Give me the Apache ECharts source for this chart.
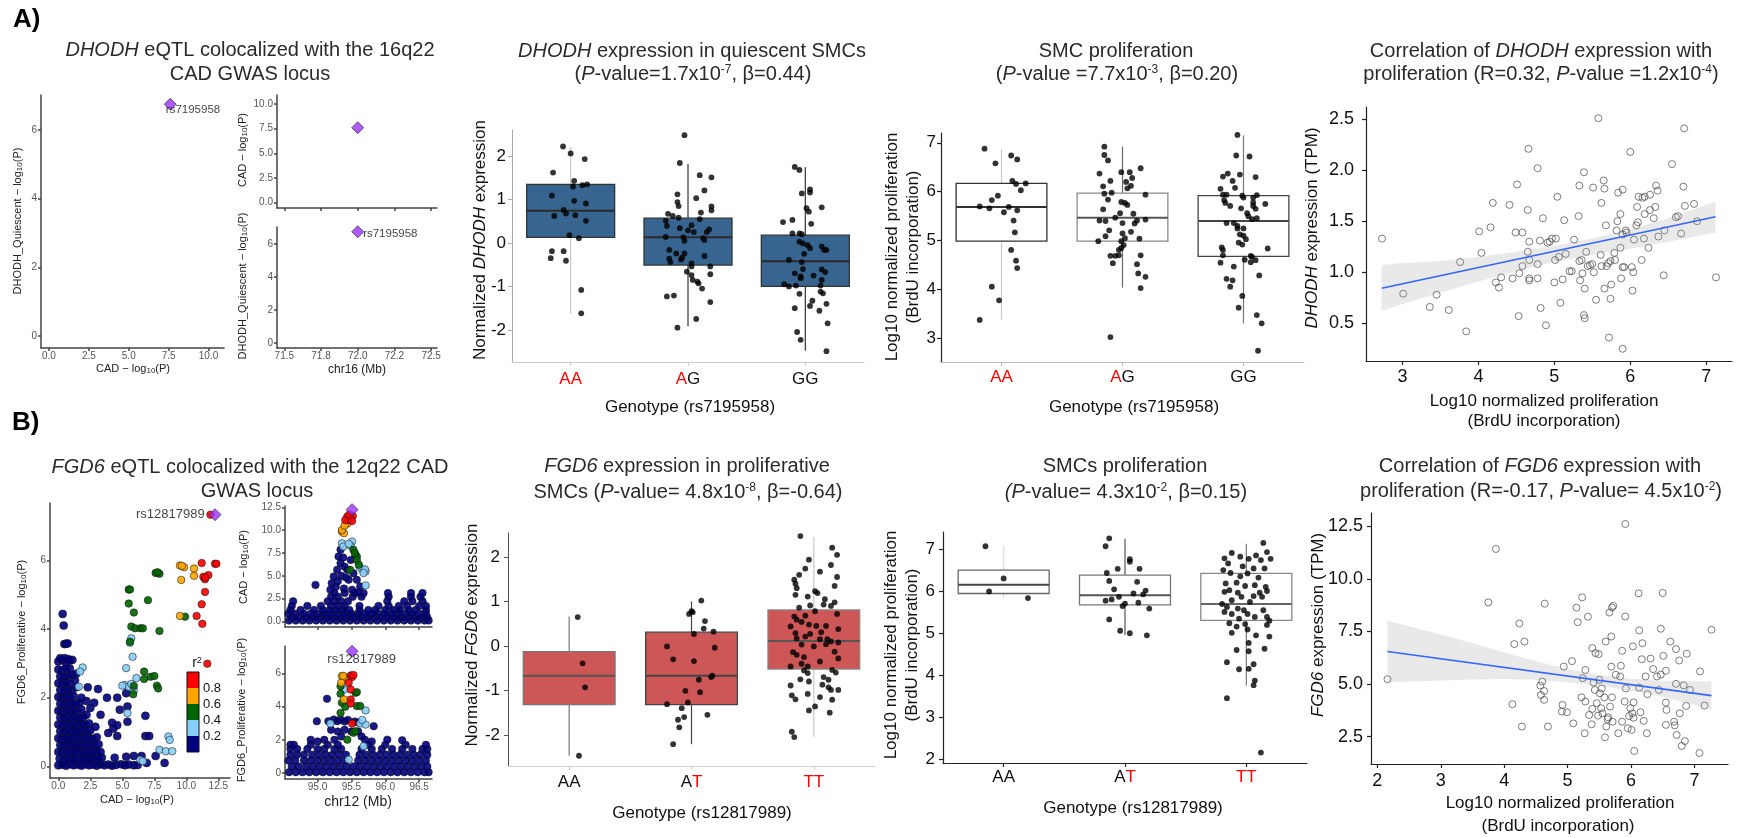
<!DOCTYPE html>
<html><head><meta charset="utf-8">
<script src="https://cdn.jsdelivr.net/npm/echarts@6/dist/echarts.min.js"></script>
<style>html,body{margin:0;padding:0;background:#fff}#c{width:1741px;height:838px}</style>
</head><body><div id="c"></div><script>
// ---------------- DATA ----------------
// Panel A - LocusZoom (DHODH, 16q22)
const A_leadSNP = 'rs7195958';
const A_leadCAD = 7.6;      // CAD -log10(P)
const A_leadEQTL = 6.75;    // DHODH_Quiescent -log10(P)
const A_leadPos = 72.0;     // chr16 (Mb)
const A_lzXTicks = [0, 2.5, 5, 7.5, 10];
const A_lzYTicks = [0, 2, 4, 6];
const A_cadTicks = [0, 2.5, 5, 7.5, 10];
const A_chrTicks = [71.5, 71.75, 72, 72.25, 72.5];
const A_chrTickLabels = ['71.5', '71.8', '72.0', '72.2', '72.5'];

// Panel B - LocusZoom (FGD6, 12q22)
const B_leadSNP = 'rs12817989';
const B_leadCAD = 12.24;
const B_leadEQTL = 7.33;
const B_leadPos = 95.51;
const B_lzXTicks = [0, 2.5, 5, 7.5, 10, 12.5];
const B_lzYTicks = [0, 2, 4, 6];
const B_cadTicks = [0, 2.5, 5, 7.5, 10, 12.5];
const B_chrTicks = [95, 95.5, 96, 96.5];
const R2_COLORS = ['#000080', '#87CEFA', '#006400', '#FFA500', '#FF0000'];
const R2_BREAK_LABELS = ['0.8', '0.6', '0.4', '0.2'];

// B main: CAD -log10P (x) vs FGD6 -log10P (y), by r2 bin
const B_main_navy = [[0.0,0.03],[0.3,0.05],[0.6,0.02],[0.9,0.06],[1.2,0.03],[1.5,0.05],[1.8,0.02],[2.1,0.06],[2.4,0.03],[2.7,0.05],[3.0,0.02],[3.3,0.06],[3.6,0.03],[3.9,0.05],[4.2,0.02],[4.5,0.04],[4.9,0.06],[5.2,0.03],[5.5,0.05],[5.9,0.03],[6.2,0.04],[6.9,0.1],[8.3,0.1],
[0.1,0.22],[0.45,0.2],[0.75,0.24],[1.05,0.21],[1.35,0.23],[1.65,0.2],[1.95,0.24],[2.25,0.21],[2.55,0.23],[2.85,0.2],[3.15,0.22],[3.4,0.25],[4.4,0.25],[5.3,0.28],[5.9,0.3],[6.5,0.3],[7.6,0.3],
[0.0,0.42],[0.3,0.4],[0.6,0.44],[0.9,0.41],[1.2,0.43],[1.5,0.4],[1.8,0.44],[2.1,0.41],[2.4,0.43],[2.7,0.4],[3.0,0.44],[3.3,0.42],
[0.15,0.62],[0.45,0.6],[0.75,0.64],[1.05,0.61],[1.35,0.63],[1.65,0.6],[1.95,0.64],[2.25,0.61],[2.55,0.63],[2.85,0.6],[3.15,0.64],
[0.0,0.82],[0.3,0.8],[0.6,0.84],[0.9,0.81],[1.2,0.83],[1.5,0.8],[1.8,0.84],[2.1,0.81],[2.4,0.83],[2.7,0.8],[3.0,0.85],[4.6,0.88],[6.8,0.88],[7.1,0.88],
[0.15,1.02],[0.45,1.0],[0.75,1.04],[1.05,1.01],[1.35,1.03],[1.65,1.0],[1.95,1.04],[2.25,1.01],[2.5,1.05],[3.9,0.97],[4.3,1.1],
[0.0,1.22],[0.3,1.2],[0.6,1.24],[0.9,1.21],[1.2,1.23],[1.5,1.2],[1.8,1.24],[2.1,1.21],[2.4,1.25],[2.9,1.15],[4.2,1.27],[4.6,1.2],[5.4,1.3],
[0.15,1.42],[0.45,1.4],[0.75,1.44],[1.05,1.41],[1.35,1.43],[1.65,1.4],[1.95,1.44],[2.2,1.5],[3.3,1.5],[4.8,1.65],[6.8,1.47],
[0.0,1.62],[0.3,1.6],[0.6,1.64],[0.9,1.61],[1.2,1.63],[1.5,1.6],[1.8,1.66],[2.5,1.7],[5.4,1.74],
[0.15,1.82],[0.45,1.8],[0.75,1.84],[1.05,1.81],[1.35,1.83],[1.65,1.85],[2.2,1.9],[2.8,1.85],
[0.0,2.02],[0.3,2.0],[0.6,2.04],[0.9,2.01],[1.2,2.05],[1.8,2.0],[3.8,2.0],[4.6,2.0],[5.3,2.13],
[0.15,2.22],[0.45,2.2],[0.75,2.24],[1.05,2.21],[1.4,2.3],[2.3,2.3],[3.1,2.25],
[0.0,2.42],[0.3,2.4],[0.6,2.44],[0.9,2.41],[1.3,2.5],
[0.15,2.62],[0.45,2.6],[0.75,2.64],[1.05,2.65],[1.4,2.7],
[0.0,2.82],[0.3,2.8],[0.6,2.84],[0.9,2.85],
[0.0,3.05],[0.3,3.1],[0.6,3.0],[0.9,3.08],[1.1,3.1],[0.15,3.15],[0.5,3.15],[0.8,3.12],
[0.34,4.44],[0.42,4.1],[0.47,3.56],[0.6,3.57],[0.73,3.58]];
const B_main_lightblue = [[5.7,3.73],[5.8,3.19],[5.3,2.86],[6.1,2.57],[5.2,2.37],[5.5,2.32],[5.9,2.21],[5.4,1.55],[1.9,2.88],[1.7,2.76],[1.6,2.32],[8.6,0.87],[8.7,0.77],[7.9,0.48],[8.4,0.44],[8.9,0.44],[6.4,0.19],[6.6,0.15],[5.6,3.6],[5.0,2.35],[5.7,2.4]];
const B_main_green = [[7.6,5.63],[7.9,5.61],[7.75,5.65],[5.5,5.15],[5.6,5.15],[7.0,4.84],[5.5,4.74],[5.9,4.48],[9.9,4.36],[5.7,4.07],[6.0,4.02],[6.4,4.02],[6.6,4.02],[7.9,3.94],[5.6,3.63],[6.7,2.76],[7.2,2.61],[7.5,2.63],[6.7,2.54],[7.7,2.35],[7.8,2.27],[5.9,2.34],[5.85,2.1]];
const B_main_orange = [[9.5,5.85],[9.82,5.8],[9.65,5.84],[10.6,5.76],[10.6,5.55],[9.6,5.43],[9.5,4.38]];
const B_main_red = [[11.2,5.92],[12.24,5.9],[12.35,5.9],[11.33,5.52],[11.72,5.57],[11.45,5.45],[11.5,5.5],[11.46,5.08],[11.2,4.72],[10.8,4.38],[11.25,4.15],[11.64,2.99],[11.88,7.33]];

// B CAD track: position (Mb) vs CAD -log10P
const B_cadTrack_navyRows = [
 [0.1,[94.58,94.68,94.78,94.88,94.98,95.08,95.18,95.28,95.38,95.48,95.58,95.68,95.78,95.88,95.98,96.08,96.18,96.28,96.38,96.48,96.58,96.64]],
 [0.45,[94.62,94.72,94.83,94.93,95.03,95.13,95.23,95.33,95.43,95.53,95.63,95.73,95.83,95.93,96.03,96.13,96.23,96.33,96.43,96.53,96.62]],
 [0.85,[94.57,94.67,94.8,94.9,95.0,95.1,95.2,95.3,95.4,95.5,95.6,95.7,95.8,95.9,96.0,96.1,96.2,96.3,96.4,96.5,96.6]],
 [1.25,[94.6,94.75,94.95,95.08,95.18,95.28,95.38,95.47,95.62,95.75,95.85,96.0,96.12,96.22,96.35,96.45,96.6]],
 [1.7,[94.62,94.85,95.05,95.2,95.3,95.4,95.62,95.9,96.05,96.2,96.32,96.5,96.6]],
 [2.2,[94.64,95.15,95.25,95.35,95.45,96.03,96.28,96.4,96.55]],
 [2.7,[95.2,95.3,95.52,95.65,96.05,96.38,96.52]],
 [3.1,[95.25,95.4,95.55,96.04,96.38,96.55]]];
const B_cadTrack_navyPeak = [[95.34,7.84],[95.31,7.1],[95.34,6.38],[95.29,5.65],[95.24,4.92],[95.21,4.19],[95.19,3.46],[95.44,5.65],[95.49,6.74],[95.53,5.28],[95.46,4.56],[95.58,4.56],[95.63,3.83],[95.51,3.46],[95.39,3.6],[95.68,3.1],[94.97,4.0],[95.38,7.0],[95.4,6.0],[95.35,5.0],[95.3,4.4],[95.27,3.8],[95.42,4.8],[95.6,3.2]];
const B_cadTrack_lightblue = [[95.36,8.56],[95.51,8.75],[95.49,8.27],[95.38,8.2],[95.66,5.65],[95.71,5.47],[95.62,6.0],[95.71,3.94],[95.7,5.7],[95.68,5.3],[95.46,8.5]];
const B_cadTrack_green = [[95.53,7.84],[95.56,7.29],[95.58,7.1],[95.58,6.74],[95.48,5.65],[95.61,6.2],[95.55,7.5]];
const B_cadTrack_orange = [[95.36,9.84],[95.39,9.66],[95.44,10.7],[95.36,10.0],[95.4,10.5]];
const B_cadTrack_red = [[95.44,11.48],[95.49,11.3],[95.52,11.55],[95.46,11.1],[95.41,11.1],[95.51,11.0],[95.47,11.7]];

// B eQTL track: position (Mb) vs FGD6 -log10P
const B_eqtlTrack_navyRows = [
 [0.05,[94.58,94.68,94.78,94.88,94.98,95.08,95.18,95.28,95.38,95.48,95.58,95.68,95.78,95.88,95.98,96.08,96.18,96.28,96.38,96.48,96.58,96.64]],
 [0.4,[94.62,94.72,94.83,94.93,95.03,95.13,95.23,95.33,95.43,95.53,95.63,95.73,95.83,95.93,96.03,96.13,96.23,96.33,96.43,96.53,96.62]],
 [0.75,[94.57,94.67,94.8,94.9,95.0,95.1,95.2,95.3,95.4,95.6,95.7,95.8,95.9,96.0,96.1,96.2,96.3,96.4,96.5,96.6]],
 [1.1,[94.6,94.7,94.8,94.92,95.02,95.12,95.22,95.32,95.42,95.62,95.72,95.82,95.92,96.02,96.12,96.22,96.32,96.42,96.52,96.62]],
 [1.45,[94.6,94.7,94.85,95.0,95.1,95.25,95.35,95.65,95.8,95.95,96.1,96.25,96.4,96.55,96.62]],
 [1.7,[94.6,94.65,94.9,95.15,95.3,95.75,96.0,96.3,96.6]]];
const B_eqtlTrack_navyPeak = [[95.14,4.47],[94.99,3.12],[95.16,3.12],[95.24,3.22],[95.29,3.12],[95.34,3.22],[95.4,3.1],[95.45,3.2],[95.55,3.1],[95.6,3.05],[95.83,2.82],[96.03,2.01],[96.25,1.97],[95.2,2.6],[95.3,2.5],[95.35,2.2],[95.4,2.6],[95.6,2.5],[95.65,2.2],[95.1,2.0],[95.0,1.9],[94.9,2.0],[95.7,2.0],[95.8,1.9],[95.5,2.5],[95.25,2.0]];
const B_eqtlTrack_lightblue = [[95.71,3.77],[95.39,5.03],[95.19,2.98],[95.63,2.98],[95.71,2.92],[95.68,1.61],[95.46,0.81],[95.66,3.2]];
const B_eqtlTrack_green = [[95.34,5.23],[95.56,4.83],[95.58,4.87],[95.34,4.77],[95.36,4.23],[95.41,3.99],[95.58,4.03],[95.63,4.03],[95.34,3.62],[95.53,2.42],[95.56,2.52],[95.44,2.01]];
const B_eqtlTrack_orange = [[95.36,5.84],[95.41,5.74],[95.39,4.43],[95.35,5.44],[95.38,5.85]];
const B_eqtlTrack_red = [[95.49,5.88],[95.51,5.78],[95.46,5.44],[95.49,5.03],[95.49,4.43],[95.49,4.19],[95.51,2.98],[95.53,5.9]];

// Genotype box plots
const A_genotypes = ['AA', 'AG', 'GG'];
const A_riskAllele = 'A';
const B_genotypes = ['AA', 'AT', 'TT'];
const B_riskAllele = 'T';
const BOX_Y_TICKS = [-2, -1, 0, 1, 2];
const PROLIF_A_TICKS = [3, 4, 5, 6, 7];
const PROLIF_B_TICKS = [2, 3, 4, 5, 6, 7];

// [min, Q1, median, Q3, max]
const A_expr_stats = [[-1.62,0.13,0.74,1.35,2.21],[-1.92,-0.51,0.13,0.57,1.82],[-2.48,-1.0,-0.42,0.18,1.74]];
const A_expr_AA = [[-0.065,2.22],[0,2.06],[0.12,1.93],[-0.15,1.62],[0.03,1.43],[0.02,1.30],[0.14,1.35],[0.10,1.33],[-0.16,1.09],[0.03,0.97],[0.13,0.91],[-0.06,0.76],[-0.04,0.68],[-0.14,0.62],[0.04,0.64],[0.13,0.51],[-0.01,0.18],[0.07,0.11],[-0.16,-0.19],[-0.06,-0.19],[-0.17,-0.35],[-0.04,-0.41],[0.09,-1.08],[0.09,-1.62]];
const A_expr_AG = [[-0.03,2.48],[-0.07,1.84],[0.1,1.56],[0.2,1.51],[0.14,1.21],[-0.09,1.12],[0.07,1.03],[-0.09,0.94],[-0.08,0.85],[0.2,0.84],[0.2,0.75],[0.11,0.70],[-0.17,0.67],[-0.13,0.62],[-0.08,0.58],[-0.19,0.51],[0.1,0.55],[-0.18,0.39],[0.03,0.41],[-0.07,0.34],[0,0.29],[0.05,0.25],[0.16,0.25],[0.18,0.31],[-0.19,0.14],[-0.04,0.13],[-0.03,0.05],[0.13,0.11],[0.14,0.07],[-0.16,-0.16],[-0.1,-0.24],[-0.03,-0.24],[-0.16,-0.36],[-0.06,-0.38],[-0.05,-0.34],[0.14,-0.30],[-0.15,-0.44],[0.03,-0.47],[0.03,-0.54],[0.19,-0.54],[-0.01,-0.66],[0.03,-0.74],[0.19,-0.72],[0.04,-0.85],[0.08,-0.89],[0.09,-0.93],[0.12,-1.05],[-0.18,-1.23],[-0.12,-1.21],[0.19,-1.36],[0.07,-1.75],[-0.09,-1.95]];
const A_expr_GG = [[-0.09,1.75],[-0.05,1.68],[-0.03,1.14],[0.04,1.23],[0.04,1.16],[0.14,0.82],[0.01,0.80],[0.03,0.72],[-0.19,0.48],[-0.11,0.53],[0.05,0.44],[-0.11,0.22],[-0.05,0.22],[-0.03,0.20],[-0.05,0.03],[-0.02,-0.01],[0.02,-0.05],[0.04,-0.12],[0.14,-0.08],[0.18,-0.16],[0.16,-0.16],[-0.01,-0.25],[-0.14,-0.39],[-0.03,-0.44],[-0.02,-0.6],[0.14,-0.61],[0.17,-0.67],[-0.09,-0.7],[-0.04,-0.81],[0.07,-0.75],[0.14,-0.85],[-0.04,-0.77],[-0.18,-0.95],[-0.14,-1.0],[-0.08,-0.98],[0.13,-0.98],[0.13,-1.12],[0.15,-1.16],[-0.05,-1.17],[0.06,-1.33],[0.04,-1.45],[0.18,-1.40],[-0.09,-1.50],[0.12,-1.56],[0.19,-1.85],[-0.07,-2.05],[-0.04,-2.23],[0.18,-2.49]];

const B_expr_stats = [[-2.47,-1.32,-0.67,-0.13,0.66],[-2.21,-1.32,-0.67,0.31,1.0],[-2.04,-0.52,0.11,0.81,2.45]];
const B_expr_AA = [[0.07,0.65],[0.11,-0.39],[0.13,-0.93],[0.08,-2.47]];
const B_expr_AT = [[0.08,1.02],[0,0.78],[-0.02,0.72],[0.01,0.76],[0.11,0.56],[0.10,0.39],[0.18,0.32],[0.02,0.27],[-0.2,-0.01],[0.19,-0.04],[-0.15,-0.30],[0.02,-0.34],[0.17,-0.67],[0.16,-0.70],[0.06,-0.76],[-0.05,-1.01],[0.07,-1.04],[-0.03,-1.27],[-0.2,-1.31],[-0.08,-1.40],[-0.06,-1.60],[-0.11,-1.66],[0.13,-1.55],[-0.10,-1.83],[-0.15,-2.21]];
const B_expr_TT = [[-0.11,2.47],[0.15,2.21],[0.19,2.05],[-0.04,1.94],[0.14,1.82],[-0.07,1.74],[0.05,1.67],[-0.12,1.60],[0.19,1.55],[-0.16,1.49],[-0.15,1.40],[0.17,1.35],[-0.14,1.30],[0.01,1.23],[0.03,1.19],[-0.05,1.11],[-0.15,1.15],[0.09,1.05],[0.17,0.98],[-0.03,0.91],[0.14,0.90],[0.08,0.93],[-0.12,0.86],[0.01,0.78],[0.19,0.72],[-0.16,0.66],[-0.07,0.68],[-0.14,0.59],[-0.10,0.54],[-0.04,0.48],[0.02,0.45],[0.10,0.45],[-0.19,0.44],[0.20,0.38],[-0.15,0.29],[0.06,0.31],[-0.03,0.27],[-0.07,0.21],[-0.14,0.17],[0.05,0.15],[0.11,0.15],[0.14,0.10],[0.20,0.08],[0.10,0.04],[-0.10,0.03],[0,-0.01],[0.17,-0.13],[-0.17,-0.14],[-0.14,-0.20],[-0.08,-0.25],[0.20,-0.28],[0.05,-0.35],[-0.10,-0.40],[-0.05,-0.46],[-0.19,-0.46],[-0.08,-0.55],[0.15,-0.54],[0.18,-0.60],[-0.05,-0.61],[0.08,-0.70],[-0.11,-0.75],[-0.04,-0.80],[0.12,-0.76],[0.07,-0.87],[0.12,-0.93],[-0.19,-0.89],[0.14,-0.99],[0.20,-0.99],[-0.05,-1.08],[-0.18,-1.11],[0.05,-1.15],[-0.15,-1.20],[0.15,-1.21],[0.01,-1.36],[-0.04,-1.45],[0.13,-1.50],[-0.18,-1.93],[-0.16,-2.05]];

const A_prolif_stats = [[3.39,4.99,5.69,6.17,6.87],[4.04,4.99,5.47,5.97,6.92],[3.31,4.68,5.40,5.92,7.15]];
const A_prolif_AA = [[-0.14,6.88],[-0.05,6.58],[0.08,6.74],[0.13,6.66],[0.09,6.22],[0.12,6.16],[0.20,6.17],[0.16,6.03],[-0.03,5.92],[-0.08,5.83],[-0.18,5.70],[-0.10,5.66],[0.06,5.69],[0.02,5.58],[0.13,5.62],[0.10,5.41],[0.11,5.17],[0.08,4.81],[0.12,4.59],[0.13,4.44],[-0.08,4.06],[-0.02,3.78],[-0.18,3.38]];
const A_prolif_AG = [[-0.15,6.92],[-0.15,6.75],[-0.12,6.64],[-0.19,6.37],[-0.01,6.40],[0.06,6.40],[0.15,6.48],[-0.10,6.22],[0.08,6.28],[0.03,6.20],[0.07,6.12],[-0.16,6.11],[0.04,6.07],[-0.15,5.96],[-0.09,5.98],[0.19,5.94],[-0.12,5.84],[-0.01,5.79],[0.02,5.77],[0.04,5.73],[-0.16,5.64],[-0.02,5.56],[0.09,5.55],[-0.06,5.47],[-0.19,5.41],[-0.14,5.40],[0.12,5.41],[0.19,5.43],[0,5.36],[0.10,5.35],[-0.11,5.21],[0.07,5.18],[0,5.15],[-0.14,5.09],[0.02,5.05],[0.14,5.04],[-0.20,4.99],[-0.01,4.99],[0.01,4.91],[-0.01,4.85],[-0.03,4.81],[-0.10,4.69],[-0.06,4.69],[-0.03,4.70],[0.15,4.70],[-0.08,4.54],[0.12,4.52],[0.13,4.33],[0.19,4.26],[0.15,4.03],[-0.10,3.03]];
const A_prolif_GG = [[-0.05,7.16],[-0.06,6.74],[0.05,6.72],[-0.17,6.31],[-0.13,6.37],[-0.03,6.35],[0.10,6.30],[-0.09,6.22],[-0.07,6.08],[-0.19,6.06],[-0.17,5.94],[-0.14,5.94],[-0.01,5.92],[0,5.88],[0.11,5.93],[0.08,5.88],[-0.16,5.83],[-0.15,5.77],[0.08,5.78],[0.18,5.75],[0.08,5.71],[-0.11,5.71],[-0.02,5.66],[0.10,5.65],[0.03,5.56],[0.04,5.50],[0.07,5.44],[0.11,5.46],[-0.14,5.36],[-0.08,5.36],[-0.05,5.30],[-0.05,5.25],[0,5.25],[-0.03,5.13],[0,5.10],[0.02,5.03],[-0.04,4.96],[-0.01,4.92],[-0.18,4.86],[-0.17,4.81],[0.20,4.84],[-0.17,4.70],[0.06,4.69],[0.07,4.67],[0.01,4.61],[0.10,4.60],[0.06,4.56],[-0.19,4.55],[-0.08,4.47],[0.13,4.29],[-0.14,4.22],[-0.09,4.19],[-0.11,4.06],[-0.01,3.87],[-0.04,3.63],[0.11,3.48],[0.15,3.31],[0.12,2.75]];

const B_prolif_stats = [[5.83,5.95,6.16,6.51,7.08],[4.96,5.68,5.91,6.39,7.26],[3.75,5.31,5.70,6.43,7.14]];
const B_prolif_AA = [[-0.15,7.08],[0,6.31],[-0.12,6.0],[0.20,5.84]];
const B_prolif_AT = [[-0.13,7.27],[-0.16,7.08],[0.04,6.77],[0.04,6.71],[-0.06,6.54],[0.12,6.54],[-0.15,6.44],[-0.13,6.25],[0.10,6.23],[-0.09,6.05],[0.17,6.02],[0.07,5.95],[0.15,5.93],[-0.05,5.87],[-0.11,5.81],[-0.16,5.78],[0.11,5.73],[0,5.71],[-0.02,5.65],[0.20,5.59],[-0.13,5.33],[-0.04,5.06],[0.04,5.00],[0.18,4.95]];
const B_prolif_TT = [[0.14,7.16],[-0.12,6.92],[-0.05,6.83],[0.08,6.86],[0.17,6.94],[-0.18,6.79],[0.02,6.78],[0.12,6.75],[0.20,6.78],[-0.15,6.67],[-0.03,6.60],[0.06,6.55],[0.15,6.55],[-0.19,6.51],[-0.13,6.44],[0.01,6.43],[-0.05,6.36],[0.10,6.33],[-0.17,6.19],[-0.08,6.21],[-0.01,6.13],[0.16,6.11],[0.07,6.15],[-0.14,6.03],[-0.18,5.99],[-0.07,5.97],[0.11,5.97],[0.17,6.01],[-0.04,5.87],[0.06,5.89],[0.13,5.87],[-0.12,5.79],[0.03,5.75],[-0.20,5.70],[-0.16,5.63],[-0.07,5.59],[-0.02,5.55],[0.14,5.55],[-0.18,5.51],[-0.12,5.46],[0.01,5.46],[0.17,5.39],[0.07,5.39],[-0.06,5.35],[0.19,5.30],[-0.14,5.24],[-0.01,5.22],[0.17,5.20],[-0.08,5.16],[0.01,5.09],[-0.12,5.01],[0.08,4.95],[0.19,4.92],[0.02,4.77],[-0.08,4.60],[0.15,4.63],[0.02,4.57],[-0.16,4.31],[0.06,4.26],[-0.06,4.14],[0.02,4.15],[0.07,3.87],[0.06,3.76],[-0.16,3.45],[0.12,2.15]];

// Correlation scatter plots: [log10 proliferation, expression TPM]
const A_corr = [[2.73,1.33],[3.01,0.79],[3.36,0.66],[3.45,0.78],[3.61,0.63],[3.76,1.10],[3.84,0.42],[4.01,1.40],[4.04,1.19],[4.16,1.44],[4.19,1.68],[4.23,0.90],[4.27,0.85],[4.30,0.95],[4.41,1.66],[4.45,0.94],[4.49,1.39],[4.51,1.86],[4.53,0.57],[4.54,0.99],[4.58,1.39],[4.58,1.06],[4.65,1.20],[4.66,2.21],[4.65,1.61],[4.67,1.30],[4.67,1.12],[4.67,0.94],[4.67,0.92],[4.78,2.02],[4.78,1.08],[4.78,0.94],[4.81,1.31],[4.82,0.65],[4.85,1.53],[4.89,0.48],[4.91,1.29],[4.94,1.30],[4.97,1.33],[5.00,0.90],[5.01,1.12],[5.02,1.33],[5.04,1.74],[5.06,1.15],[5.08,0.70],[5.11,0.93],[5.13,1.51],[5.15,1.18],[5.20,1.01],[5.23,1.01],[5.26,1.32],[5.32,1.55],[5.33,1.85],[5.33,1.11],[5.34,0.92],[5.36,1.12],[5.37,0.99],[5.39,1.98],[5.39,0.58],[5.40,0.55],[5.40,0.84],[5.42,1.20],[5.44,1.06],[5.47,1.07],[5.50,1.08],[5.51,1.83],[5.52,1.00],[5.55,0.73],[5.58,2.51],[5.61,1.17],[5.62,1.68],[5.62,1.06],[5.65,1.90],[5.66,1.82],[5.66,0.84],[5.68,1.46],[5.69,1.06],[5.71,1.09],[5.72,0.36],[5.74,1.11],[5.74,0.74],[5.75,0.88],[5.79,1.19],[5.80,1.12],[5.82,1.41],[5.83,1.50],[5.84,1.78],[5.87,1.24],[5.87,1.57],[5.88,0.94],[5.90,1.81],[5.90,1.37],[5.90,1.05],[5.90,0.25],[5.92,1.05],[5.94,1.41],[5.95,1.39],[6.00,2.18],[6.02,1.05],[6.04,1.00],[6.03,0.82],[6.05,1.32],[6.08,1.46],[6.09,1.64],[6.10,1.49],[6.11,1.74],[6.15,1.12],[6.16,1.73],[6.18,1.33],[6.19,1.74],[6.19,1.57],[6.24,1.24],[6.26,1.61],[6.26,1.76],[6.31,1.53],[6.33,1.64],[6.34,1.85],[6.36,1.80],[6.37,1.35],[6.44,0.97],[6.45,1.41],[6.55,2.06],[6.60,1.54],[6.63,1.55],[6.67,1.38],[6.70,1.84],[6.71,2.41],[6.72,1.65],[6.84,1.67],[6.88,1.50],[7.13,0.95]];
const A_fit = [[2.727,0.843],[7.123,1.544]];
const A_bandX = [2.727, 3.0, 3.5, 4.0, 4.5, 5.0, 5.5, 6.0, 6.5, 7.123];
const A_bandLo = [0.62, 0.69, 0.80, 0.91, 1.01, 1.10, 1.17, 1.23, 1.30, 1.39];
const A_bandHi = [1.07, 1.09, 1.11, 1.15, 1.20, 1.26, 1.33, 1.42, 1.53, 1.69];
const A_corrXTicks = [3, 4, 5, 6, 7];
const A_corrYTicks = [0.5, 1.0, 1.5, 2.0, 2.5];

const B_corr = [[2.16,5.23],[3.75,8.88],[3.87,11.42],[4.13,4.04],[4.16,6.90],[4.24,7.88],[4.28,2.98],[4.32,7.02],[4.57,4.93],[4.60,5.12],[4.58,4.48],[4.63,4.67],[4.63,4.25],[4.64,8.82],[4.69,2.98],[4.92,4.01],[4.94,5.83],[4.99,3.66],[4.91,3.69],[5.07,6.09],[5.09,3.13],[5.14,8.63],[5.16,7.94],[5.22,4.37],[5.23,9.12],[5.24,5.28],[5.27,2.66],[5.28,5.67],[5.28,4.17],[5.32,8.20],[5.34,3.53],[5.39,3.82],[5.39,6.71],[5.38,3.09],[5.41,5.07],[5.43,4.72],[5.44,6.47],[5.46,4.09],[5.48,3.50],[5.49,6.42],[5.50,5.20],[5.51,4.56],[5.53,3.85],[5.54,4.79],[5.55,3.61],[5.58,4.37],[5.59,2.47],[5.60,7.02],[5.61,2.98],[5.63,3.33],[5.64,3.42],[5.66,8.40],[5.67,3.93],[5.69,7.26],[5.69,5.83],[5.70,4.37],[5.70,8.64],[5.72,8.72],[5.71,3.21],[5.76,5.44],[5.80,2.66],[5.83,5.36],[5.84,5.87],[5.86,6.58],[5.86,3.21],[5.90,4.17],[5.91,12.61],[5.91,8.21],[5.92,4.79],[5.95,2.90],[5.97,3.48],[5.99,3.85],[6.01,2.82],[6.02,3.61],[6.03,6.79],[6.04,4.13],[6.05,1.82],[6.04,3.40],[6.12,9.31],[6.13,7.55],[6.13,4.83],[6.15,3.66],[6.17,6.18],[6.18,6.94],[6.20,3.25],[6.23,5.36],[6.25,2.66],[6.26,4.52],[6.31,6.21],[6.35,5.71],[6.41,5.36],[6.47,5.45],[6.47,7.63],[6.50,9.33],[6.51,6.34],[6.44,4.72],[6.55,5.63],[6.55,4.12],[6.56,3.77],[6.55,3.06],[6.62,7.02],[6.71,6.66],[6.68,3.21],[6.69,3.04],[6.71,5.01],[6.76,6.12],[6.77,3.61],[6.72,2.58],[6.83,4.94],[6.80,2.06],[6.85,2.29],[6.88,6.44],[6.87,3.96],[6.93,4.72],[7.08,1.72],[7.09,5.60],[7.16,3.98],[7.27,7.58]];
const B_fit = [[2.16,6.55],[7.27,4.45]];
const B_bandX = [2.16, 3.0, 3.5, 4.0, 4.5, 5.0, 5.5, 6.0, 6.5, 7.27];
const B_bandLo = [5.07, 5.17, 5.22, 5.24, 5.20, 5.08, 4.92, 4.68, 4.40, 3.80];
const B_bandHi = [8.01, 7.35, 6.95, 6.50, 6.08, 5.72, 5.43, 5.25, 5.16, 5.12];
const B_corrXTicks = [2, 3, 4, 5, 6, 7];
const B_corrYTicks = [2.5, 5.0, 7.5, 10.0, 12.5];

// Text
const TITLES = [
 ['{i|DHODH} eQTL colocalized with the 16q22', 'CAD GWAS locus'],
 ['{i|DHODH} expression in quiescent SMCs', '({i|P}-value=1.7x10{s|-7}, \u03b2=0.44)'],
 ['SMC proliferation', '({i|P}-value =7.7x10{s|-3}, \u03b2=0.20)'],
 ['Correlation of {i|DHODH} expression with', 'proliferation (R=0.32, {i|P}-value =1.2x10{s|-4})'],
 ['{i|FGD6} eQTL colocalized with the 12q22 CAD', 'GWAS locus'],
 ['{i|FGD6} expression in proliferative', 'SMCs ({i|P}-value= 4.8x10{s|-8}, \u03b2=-0.64)'],
 ['SMCs proliferation', '{i|(P}-value= 4.3x10{s|-2}, \u03b2=0.15)'],
 ['Correlation of {i|FGD6} expression with', 'proliferation (R=-0.17, {i|P}-value= 4.5x10{s|-2})']
];
const LZ_CAD_NAME = 'CAD \u2212 log{sub|10}(P)';
const LZ_A_EQTL_NAME = 'DHODH_Quiescent \u2212 log{sub|10}(P)';
const LZ_B_EQTL_NAME = 'FGD6_Proliferative \u2212 log{sub|10}(P)';
const A_CHR_NAME = 'chr16 (Mb)';
const B_CHR_NAME = 'chr12 (Mb)';
const EXPR_NAME_A = 'Normalized {i|DHODH} expression';
const EXPR_NAME_B = 'Normalized {i|FGD6} expression';
const PROLIF_NAME = ['Log10 normalized proliferation', '(BrdU incorporation)'];
const GENO_NAME_A = 'Genotype (rs7195958)';
const GENO_NAME_B = 'Genotype (rs12817989)';
const TPM_NAME_A = '{i|DHODH} expression (TPM)';
const TPM_NAME_B = '{i|FGD6} expression (TPM)';

// ---------------- BUILD ----------------
const FONT = '"Liberation Sans", Arial, Helvetica, sans-serif';
const chart = echarts.init(document.getElementById('c'), null, {renderer: 'canvas'});

const G = [
 [41,95,183,253],[277,95,160,113],[277,227,160,121],[512,130,352,232],[941,133,363,229],[1366,107,366,254],
 [50,503,180,275],[285,506,147,121],[285,646,147,133],[508,533,367,233],[943,532,364,231],[1371,513,357,251]
];
const grid = G.map(g => ({left:g[0], top:g[1], width:g[2], height:g[3], containLabel:false, outerBoundsMode:'none'}));

const near = (a, b) => Math.abs(a - b) < 1e-6;
const fx1 = v => v.toFixed(1);
const fInt = v => String(Math.round(v));
function genoFmt(cats, risk) {
  return v => {
    const g = cats[Math.round(v)];
    if (!g) return '';
    return g.split('').map(c => (c === risk ? '{r|' + c + '}' : '{k|' + c + '}')).join('');
  };
}
function ax(gi, min, max, ticks, fmt, o) {
  o = o || {};
  const lab = {
    show: !o.noLabel, customValues: ticks, formatter: fmt || (v => String(v)),
    fontSize: o.fs || 10, color: o.lc || '#4d4d4d', margin: o.margin != null ? o.margin : 4,
    fontFamily: FONT, hideOverlap: false
  };
  if (o.rich) lab.rich = o.rich;
  return {
    type: 'value', gridIndex: gi, min: min, max: max,
    splitLine: {show: false},
    axisLine: {show: true, onZero: false, lineStyle: {color: o.line || '#444', width: o.lw || 1.4}},
    axisTick: {show: true, customValues: ticks, length: o.tl || 3, lineStyle: {color: o.tick || o.line || '#444', width: o.lw || 1.2}},
    axisLabel: lab,
    axisPointer: {show: false}
  };
}
const LZ = {line: '#444', lw: 1.5, fs: 10, lc: '#555'};
const LZx = Object.assign({}, LZ, {margin: 3});
const LZy = Object.assign({}, LZ, {margin: 4});
const genoRich = {
  r: {color: '#ff0000', fontSize: 17, fontFamily: FONT},
  k: {color: '#111', fontSize: 17, fontFamily: FONT}
};
const chrFmt = v => { const i = A_chrTicks.findIndex(t => near(t, v)); return i >= 0 ? A_chrTickLabels[i] : ''; };

const xAxis = [
  ax(0, -0.5, 10.97, A_lzXTicks, fx1, LZx),
  ax(1, 71.45, 72.54, A_chrTicks, null, Object.assign({}, LZx, {noLabel: true})),
  ax(2, 71.45, 72.54, A_chrTicks, chrFmt, LZx),
  ax(3, -0.5, 2.5, [0,1,2], genoFmt(A_genotypes, A_riskAllele), {line: '#c8c8c8', lw: 1, tl: 4, fs: 17, rich: genoRich, margin: 9}),
  ax(4, -0.5, 2.5, [0,1,2], genoFmt(A_genotypes, A_riskAllele), {line: '#bbb', lw: 1, tl: 4, fs: 17, rich: genoRich, margin: 7}),
  ax(5, 2.52, 7.34, A_corrXTicks, fInt, {line: '#222', lw: 1.2, tl: 4, fs: 18, lc: '#111', margin: 7}),
  ax(6, -0.65, 13.41, B_lzXTicks, fx1, LZx),
  ax(7, 94.52, 96.69, B_chrTicks, null, Object.assign({}, LZx, {noLabel: true})),
  ax(8, 94.52, 96.69, B_chrTicks, fx1, LZx),
  ax(9, -0.5, 2.5, [0,1,2], genoFmt(B_genotypes, B_riskAllele), {line: '#d0d0d0', lw: 1, tl: 4, fs: 17, rich: genoRich, margin: 8}),
  ax(10, -0.5, 2.5, [0,1,2], genoFmt(B_genotypes, B_riskAllele), {line: '#222', lw: 1.2, tl: 4, fs: 17, rich: genoRich, margin: 6}),
  ax(11, 1.90, 7.53, B_corrXTicks, fInt, {line: '#222', lw: 1.2, tl: 4, fs: 18, lc: '#111', margin: 8})
];
const yAxis = [
  ax(0, -0.35, 7.02, A_lzYTicks, fInt, LZy),
  ax(1, -0.54, 10.91, A_cadTicks, fx1, LZy),
  ax(2, -0.30, 7.04, A_lzYTicks, fInt, LZy),
  ax(3, -2.74, 2.6, BOX_Y_TICKS, fInt, {line: '#aaa', lw: 1, tl: 4, fs: 17, lc: '#111', margin: 6}),
  ax(4, 2.52, 7.2, PROLIF_A_TICKS, fInt, {line: '#222', lw: 1.2, tl: 4, fs: 17, lc: '#111', margin: 5}),
  ax(5, 0.13, 2.62, A_corrYTicks, fx1, {line: '#222', lw: 1.2, tl: 4, fs: 18, lc: '#111', margin: 12}),
  ax(6, -0.34, 7.67, B_lzYTicks, fInt, LZy),
  ax(7, -0.61, 12.64, B_cadTicks, fx1, LZy),
  ax(8, -0.36, 7.65, B_lzYTicks, fInt, LZy),
  ax(9, -2.70, 2.54, BOX_Y_TICKS, fInt, {line: '#555', lw: 1, tl: 4, fs: 17, lc: '#111', margin: 8}),
  ax(10, 1.90, 7.42, PROLIF_B_TICKS, fInt, {line: '#222', lw: 1.2, tl: 4, fs: 17, lc: '#111', margin: 8}),
  ax(11, 1.20, 13.13, B_corrYTicks, fx1, {line: '#222', lw: 1.2, tl: 4, fs: 18, lc: '#111', margin: 8})
];

const series = [];
const lzStyle = c => ({color: c, borderColor: '#111', borderWidth: 0.6, opacity: 0.9});
const diamondStyle = {color: '#9b30ff', borderColor: '#222', borderWidth: 0.8};
function lzPts(gi, data, c, size) {
  series.push({type: 'scatter', xAxisIndex: gi, yAxisIndex: gi, data: data, symbol: 'circle', symbolSize: size || 7.5,
    itemStyle: lzStyle(c), silent: true, z: 3});
}
const rowsToPts = rows => { const out = []; rows.forEach(r => r[1].forEach(x => out.push([x, r[0]]))); return out; };

// A LocusZoom
series.push({type: 'scatter', xAxisIndex: 0, yAxisIndex: 0, data: [[A_leadCAD, A_leadEQTL]], symbol: 'diamond', symbolSize: 12,
  itemStyle: diamondStyle, silent: true, z: 5,
  label: {show: true, formatter: A_leadSNP, position: [2, 12], align: 'left', verticalAlign: 'middle', fontSize: 11.5, color: '#111', fontFamily: FONT}});
series.push({type: 'scatter', xAxisIndex: 1, yAxisIndex: 1, data: [[A_leadPos, A_leadCAD]], symbol: 'diamond', symbolSize: 12,
  itemStyle: diamondStyle, silent: true, z: 5});
series.push({type: 'scatter', xAxisIndex: 2, yAxisIndex: 2, data: [[A_leadPos, A_leadEQTL]], symbol: 'diamond', symbolSize: 12,
  itemStyle: diamondStyle, silent: true, z: 5,
  label: {show: true, formatter: A_leadSNP, position: 'right', distance: -1, offset: [0, 2], fontSize: 11.5, color: '#111', fontFamily: FONT}});

// B LocusZoom main
[B_main_navy, B_main_lightblue, B_main_green, B_main_orange, B_main_red].forEach((d, i) => lzPts(6, d, R2_COLORS[i], i === 0 ? 8 : 7.5));
series.push({type: 'scatter', xAxisIndex: 6, yAxisIndex: 6, data: [[B_leadCAD, B_leadEQTL]], symbol: 'diamond', symbolSize: 12,
  itemStyle: diamondStyle, silent: true, z: 5,
  label: {show: true, formatter: B_leadSNP, position: 'left', distance: 4, fontSize: 13, color: '#111', fontFamily: FONT}});
// B CAD track
[rowsToPts(B_cadTrack_navyRows).concat(B_cadTrack_navyPeak), B_cadTrack_lightblue, B_cadTrack_green, B_cadTrack_orange, B_cadTrack_red]
  .forEach((d, i) => lzPts(7, d, R2_COLORS[i]));
series.push({type: 'scatter', xAxisIndex: 7, yAxisIndex: 7, data: [[B_leadPos, B_leadCAD]], symbol: 'diamond', symbolSize: 12,
  itemStyle: diamondStyle, silent: true, z: 5});
// B eQTL track
[rowsToPts(B_eqtlTrack_navyRows).concat(B_eqtlTrack_navyPeak), B_eqtlTrack_lightblue, B_eqtlTrack_green, B_eqtlTrack_orange, B_eqtlTrack_red]
  .forEach((d, i) => lzPts(8, d, R2_COLORS[i]));
series.push({type: 'scatter', xAxisIndex: 8, yAxisIndex: 8, data: [[B_leadPos, B_leadEQTL]], symbol: 'diamond', symbolSize: 12,
  itemStyle: diamondStyle, silent: true, z: 5,
  label: {show: true, formatter: B_leadSNP, position: [16, 15], align: 'center', verticalAlign: 'middle', fontSize: 13, color: '#111', fontFamily: FONT}});

// Box plots
function boxRender(st) {
  return function (params, api) {
    const i = params.dataIndex;
    const idx = api.value(0);
    const pLo = api.coord([idx, api.value(1)]), pQ1 = api.coord([idx, api.value(2)]), pMed = api.coord([idx, api.value(3)]);
    const pQ3 = api.coord([idx, api.value(4)]), pHi = api.coord([idx, api.value(5)]);
    const w = api.size([1, 0])[0] * 0.75;
    const x = pMed[0];
    return {type: 'group', children: [
      {type: 'line', shape: {x1: x, y1: pHi[1], x2: x, y2: pQ3[1]}, style: {stroke: st.whisker[i], lineWidth: 1.2}},
      {type: 'line', shape: {x1: x, y1: pQ1[1], x2: x, y2: pLo[1]}, style: {stroke: st.whisker[i], lineWidth: 1.2}},
      {type: 'rect', shape: {x: x - w / 2, y: pQ3[1], width: w, height: pQ1[1] - pQ3[1]}, style: {fill: st.fill, stroke: st.border[i], lineWidth: 1.3}},
      {type: 'line', shape: {x1: x - w / 2, y1: pMed[1], x2: x + w / 2, y2: pMed[1]}, style: {stroke: st.median[i], lineWidth: 2}}
    ]};
  };
}
function addBox(gi, stats, groups, st) {
  series.push({type: 'custom', xAxisIndex: gi, yAxisIndex: gi, data: stats.map((s, i) => [i].concat(s)),
    encode: {x: 0, y: [1, 2, 3, 4, 5]}, renderItem: boxRender(st), silent: true, z: 2});
  const pts = [];
  groups.forEach((g, i) => g.forEach(p => pts.push([i + p[0], p[1]])));
  series.push({type: 'scatter', xAxisIndex: gi, yAxisIndex: gi, data: pts, symbolSize: 5.8, itemStyle: {color: '#000'}, silent: true, z: 4});
}
addBox(3, A_expr_stats, [A_expr_AA, A_expr_AG, A_expr_GG],
  {fill: '#38658f', border: ['#333', '#333', '#333'], median: ['#2a2a2a', '#2a2a2a', '#2a2a2a'], whisker: ['#c8c8c8', '#333', '#333']});
addBox(4, A_prolif_stats, [A_prolif_AA, A_prolif_AG, A_prolif_GG],
  {fill: '#ffffff', border: ['#333', '#8a8a8a', '#444'], median: ['#333', '#555', '#444'], whisker: ['#c8c8c8', '#666', '#777']});
addBox(9, B_expr_stats, [B_expr_AA, B_expr_AT, B_expr_TT],
  {fill: '#cd5656', border: ['#777', '#444', '#888'], median: ['#555', '#444', '#555'], whisker: ['#777', '#444', '#c8c8c8']});
addBox(10, B_prolif_stats, [B_prolif_AA, B_prolif_AT, B_prolif_TT],
  {fill: '#ffffff', border: ['#666', '#777', '#888'], median: ['#444', '#555', '#666'], whisker: ['#ddd', '#555', '#777']});

// Correlation scatters
function addCorr(gi, pts, fit, bx, lo, hi) {
  series.push({type: 'scatter', xAxisIndex: gi, yAxisIndex: gi, data: pts, symbol: 'circle', symbolSize: 7,
    itemStyle: {color: 'rgba(255,255,255,0)', borderColor: '#4a4a4a', borderWidth: 0.9}, silent: true, z: 3});
  series.push({type: 'custom', xAxisIndex: gi, yAxisIndex: gi, data: [[bx[0], lo[0]]], silent: true, z: 4,
    renderItem: (p, api) => {
      const poly = [];
      bx.forEach((x, i) => poly.push(api.coord([x, hi[i]])));
      for (let i = bx.length - 1; i >= 0; i--) poly.push(api.coord([bx[i], lo[i]]));
      return {type: 'polygon', shape: {points: poly}, style: {fill: 'rgba(153,153,153,0.22)'}};
    }});
  series.push({type: 'line', xAxisIndex: gi, yAxisIndex: gi, data: fit, symbol: 'none', silent: true, z: 5,
    lineStyle: {color: '#3366ff', width: 1.6}});
}
addCorr(5, A_corr, A_fit, A_bandX, A_bandLo, A_bandHi);
addCorr(11, B_corr, B_fit, B_bandX, B_bandLo, B_bandHi);

// Text graphics
function rich(fs, fill) {
  return {
    i: {fontStyle: 'italic', fontSize: fs, fontFamily: FONT, fill: fill, color: fill},
    s: {fontSize: Math.round(fs * 0.62), fontFamily: FONT, fill: fill, color: fill, verticalAlign: 'top'},
    sub: {fontSize: Math.round(fs * 0.72), fontFamily: FONT, fill: fill, color: fill, verticalAlign: 'bottom'}
  };
}
function T(x, y, text, o) {
  o = o || {};
  const fs = o.fs || 20, fill = o.fill || '#2a2a2a';
  return {type: 'text', x: x, y: y, rotation: o.rot || 0, z: 100, silent: true,
    style: {text: text, fill: fill, fontSize: fs, fontFamily: FONT, fontWeight: o.fw || 'normal',
      align: o.align || 'center', verticalAlign: 'middle', rich: rich(fs, fill)}};
}
const R90 = Math.PI / 2;
const TPOS = [[250,50,250,74],[692,51,693,74],[1116,51,1117,74],[1541,51,1541,74],[250,467,257,491],[687,466,688,492],[1125,466,1126,492],[1540,466,1541,491]];
const gr = [];
gr.push(T(13, 20, 'A)', {fs: 26, fw: 'bold', align: 'left', fill: '#000'}));
gr.push(T(12, 423, 'B)', {fs: 26, fw: 'bold', align: 'left', fill: '#000'}));
TITLES.forEach((t, i) => {
  const p = TPOS[i];
  gr.push(T(p[0], p[1], t[0]));
  gr.push(T(p[2], p[3], t[1]));
});
// LocusZoom axis names
const lzn = {fs: 11, fill: '#222'};
gr.push(T(133, 369, LZ_CAD_NAME, lzn));
gr.push(T(18, 221, LZ_A_EQTL_NAME, Object.assign({rot: R90}, lzn)));
gr.push(T(243, 150, LZ_CAD_NAME, Object.assign({rot: R90}, lzn)));
gr.push(T(243, 286, LZ_A_EQTL_NAME, Object.assign({rot: R90}, lzn)));
gr.push(T(357, 370, A_CHR_NAME, Object.assign({}, lzn, {fs: 12})));
gr.push(T(137, 800, LZ_CAD_NAME, lzn));
gr.push(T(22, 632, LZ_B_EQTL_NAME, Object.assign({rot: R90}, lzn)));
gr.push(T(244, 567, LZ_CAD_NAME, Object.assign({rot: R90}, lzn)));
gr.push(T(242, 710, LZ_B_EQTL_NAME, Object.assign({rot: R90}, lzn)));
gr.push(T(358, 802, B_CHR_NAME, Object.assign({}, lzn, {fs: 14})));
// r2 legend
const legColors = R2_COLORS.slice().reverse();
legColors.forEach((c, k) => gr.push({type: 'rect', z: 100, silent: true, shape: {x: 187, y: 672 + 16 * k, width: 12, height: 16}, style: {fill: c}}));
gr.push({type: 'rect', z: 101, silent: true, shape: {x: 187, y: 672, width: 12, height: 80}, style: {fill: 'none', stroke: '#111', lineWidth: 1}});
R2_BREAK_LABELS.forEach((l, k) => gr.push(T(203, 688 + 16 * k, l, {fs: 13, align: 'left', fill: '#111'})));
gr.push(T(197, 663, 'r{s|2}', {fs: 14, fill: '#111'}));
// Box plot & scatter axis names
const bn = {fs: 17, fill: '#111'};
gr.push(T(480, 240, EXPR_NAME_A, Object.assign({rot: R90}, bn)));
gr.push(T(690, 407, GENO_NAME_A, bn));
gr.push(T(892, 247, PROLIF_NAME[0], Object.assign({rot: R90}, bn)));
gr.push(T(913, 247, PROLIF_NAME[1], Object.assign({rot: R90}, bn)));
gr.push(T(1134, 407, GENO_NAME_A, bn));
gr.push(T(1312, 228, TPM_NAME_A, Object.assign({rot: R90}, bn)));
gr.push(T(1544, 401, PROLIF_NAME[0], bn));
gr.push(T(1544, 421, PROLIF_NAME[1], bn));
gr.push(T(472, 635, EXPR_NAME_B, Object.assign({rot: R90}, bn)));
gr.push(T(702, 813, GENO_NAME_B, bn));
gr.push(T(891, 645, PROLIF_NAME[0], Object.assign({rot: R90}, bn)));
gr.push(T(912, 645, PROLIF_NAME[1], Object.assign({rot: R90}, bn)));
gr.push(T(1133, 808, GENO_NAME_B, bn));
gr.push(T(1318, 625, TPM_NAME_B, Object.assign({rot: R90}, bn)));
gr.push(T(1560, 803, PROLIF_NAME[0], bn));
gr.push(T(1558, 826, PROLIF_NAME[1], bn));

chart.setOption({
  animation: false,
  backgroundColor: '#ffffff',
  textStyle: {fontFamily: FONT},
  grid: grid, xAxis: xAxis, yAxis: yAxis, series: series,
  graphic: {elements: gr}
});
</script></body></html>
